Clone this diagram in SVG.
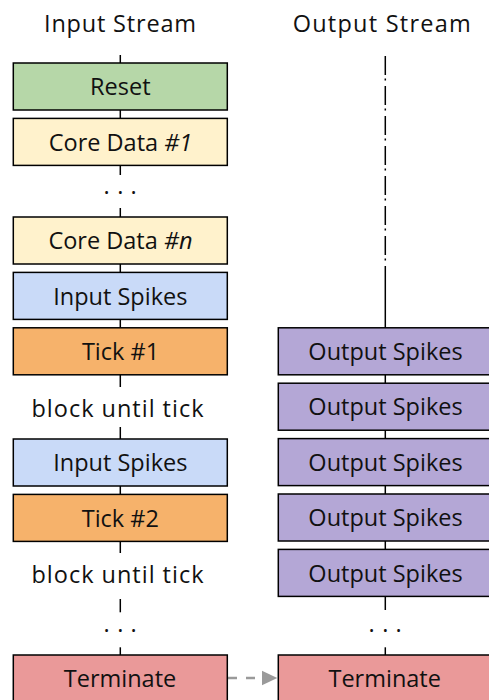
<svg xmlns="http://www.w3.org/2000/svg" width="489" height="700" viewBox="0 0 489 700">
  <style>
    .box { stroke: #000; stroke-width: 1.5; }
    .reset { fill: #b6d7a8; }
    .core { fill: #fff2cc; }
    .inspk { fill: #c9daf8; }
    .tick { fill: #f6b26b; }
    .outspk { fill: #b4a7d6; }
    .term { fill: #ea9999; }
    text { font-family: "Open Sans", "Noto Sans", sans-serif; font-size: 23.5px; fill: #111; text-anchor: middle; }
    .it { font-style: italic; }
    .wire { stroke: #000; stroke-width: 1.5; fill: none; }
    .dashdot { stroke-dasharray: 19 3.5 2 5.5; }
    .handoff { stroke: #9a9a9a; stroke-width: 2.5; stroke-dasharray: 9 9; fill: none; }
  </style>
  <defs>
    <marker id="grayHead" viewBox="0 0 16 16" refX="0" refY="8" markerWidth="16" markerHeight="16" markerUnits="userSpaceOnUse" orient="auto">
      <path d="M0,0.5 L15.6,8 L0,15.5 Z" fill="#9a9a9a"/>
    </marker>
  </defs>

  <rect width="489" height="700" fill="#fff"/>

  <!-- column headings -->
  <text x="120" y="31.7" textLength="152" lengthAdjust="spacing">Input Stream</text>
  <text x="381.7" y="31.7" textLength="178" lengthAdjust="spacing">Output Stream</text>

  <!-- connectors -->
  <g id="connectors">
    <!-- input stream spine -->
    <line class="wire" x1="120.3" y1="55" x2="120.3" y2="63"/>
    <line class="wire" x1="120.3" y1="110" x2="120.3" y2="118.4"/>
    <line class="wire" x1="120.3" y1="165.4" x2="120.3" y2="175"/>
    <line class="wire" x1="120.3" y1="208" x2="120.3" y2="217"/>
    <line class="wire" x1="120.3" y1="264" x2="120.3" y2="272.4"/>
    <line class="wire" x1="120.3" y1="319.4" x2="120.3" y2="327.8"/>
    <line class="wire" x1="120.3" y1="374.8" x2="120.3" y2="387"/>
    <line class="wire" x1="120.3" y1="427" x2="120.3" y2="439"/>
    <line class="wire" x1="120.3" y1="486" x2="120.3" y2="494.4"/>
    <line class="wire" x1="120.3" y1="541.4" x2="120.3" y2="553"/>
    <line class="wire" x1="120.3" y1="599" x2="120.3" y2="612.3"/>
    <line class="wire" x1="120.3" y1="647.3" x2="120.3" y2="655"/>
    <!-- output stream spine -->
    <line class="wire dashdot" x1="385.3" y1="56" x2="385.3" y2="266"/>
    <line class="wire" x1="385.3" y1="266" x2="385.3" y2="327.8"/>
    <line class="wire" x1="385.3" y1="374.8" x2="385.3" y2="383.2"/>
    <line class="wire" x1="385.3" y1="430.2" x2="385.3" y2="438.6"/>
    <line class="wire" x1="385.3" y1="485.6" x2="385.3" y2="494"/>
    <line class="wire" x1="385.3" y1="541" x2="385.3" y2="549.4"/>
    <line class="wire" x1="385.3" y1="596.4" x2="385.3" y2="610"/>
    <line class="wire" x1="385.3" y1="647.3" x2="385.3" y2="655"/>
    <!-- terminate hand-off -->
    <line class="handoff" x1="228" y1="678" x2="261.7" y2="678" marker-end="url(#grayHead)"/>
  </g>

  <!-- ellipses and wait labels -->
  <text x="106.7 120.3 133.6" y="194">...</text>
  <text x="106.7 120.3 133.6" y="631.5">...</text>
  <text x="371.7 385.3 398.6" y="631.5">...</text>
  <text x="117.5" y="416.7" textLength="172" lengthAdjust="spacing">block until tick</text>
  <text x="117.5" y="583.3" textLength="172" lengthAdjust="spacing">block until tick</text>

  <!-- input stream nodes -->
  <g id="reset">
    <rect class="box reset" x="13.3" y="63" width="214" height="47"/>
    <text x="120.3" y="95.2">Reset</text>
  </g>
  <g id="core-data-1">
    <rect class="box core" x="13.3" y="118.4" width="214" height="47"/>
    <text x="120.5" y="150.6">Core Data <tspan class="it">#1</tspan></text>
  </g>
  <g id="core-data-n">
    <rect class="box core" x="13.3" y="217" width="214" height="47"/>
    <text x="120.5" y="249.2">Core Data <tspan class="it">#n</tspan></text>
  </g>
  <g id="input-spikes-1">
    <rect class="box inspk" x="13.3" y="272.4" width="214" height="47"/>
    <text x="120.3" y="304.6">Input Spikes</text>
  </g>
  <g id="tick-1">
    <rect class="box tick" x="13.3" y="327.8" width="214" height="47"/>
    <text x="120.5" y="360">Tick #1</text>
  </g>
  <g id="input-spikes-2">
    <rect class="box inspk" x="13.3" y="439" width="214" height="47"/>
    <text x="120.3" y="471.2">Input Spikes</text>
  </g>
  <g id="tick-2">
    <rect class="box tick" x="13.3" y="494.4" width="214" height="47"/>
    <text x="120.3" y="526.6">Tick #2</text>
  </g>
  <g id="terminate-in">
    <rect class="box term" x="13.3" y="655" width="214" height="47"/>
    <text x="120" y="687.2">Terminate</text>
  </g>

  <!-- output stream nodes -->
  <g id="output-spikes-1">
    <rect class="box outspk" x="278.3" y="327.8" width="214" height="47"/>
    <text x="385.5" y="360">Output Spikes</text>
  </g>
  <g id="output-spikes-2">
    <rect class="box outspk" x="278.3" y="383.2" width="214" height="47"/>
    <text x="385.5" y="415.4">Output Spikes</text>
  </g>
  <g id="output-spikes-3">
    <rect class="box outspk" x="278.3" y="438.6" width="214" height="47"/>
    <text x="385.5" y="470.8">Output Spikes</text>
  </g>
  <g id="output-spikes-4">
    <rect class="box outspk" x="278.3" y="494" width="214" height="47"/>
    <text x="385.5" y="526.2">Output Spikes</text>
  </g>
  <g id="output-spikes-5">
    <rect class="box outspk" x="278.3" y="549.4" width="214" height="47"/>
    <text x="385.5" y="581.6">Output Spikes</text>
  </g>
  <g id="terminate-out">
    <rect class="box term" x="278.3" y="655" width="214" height="47"/>
    <text x="384.7" y="687.2">Terminate</text>
  </g>
</svg>
